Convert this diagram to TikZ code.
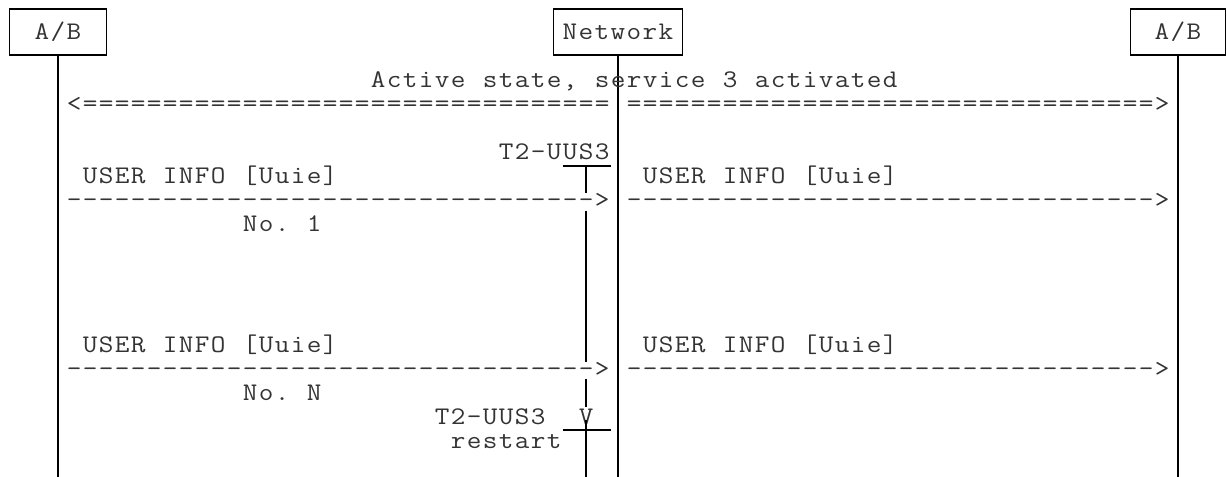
\documentclass[tikz,border=0pt]{standalone}
\usepackage{tikz}
\usepackage{graphicx}

% one character per fixed cell, as in the plain-text original
\newlength{\cellw}
\setlength{\cellw}{12pt}
\newcommand{\cellglyph}[1]{\makebox[\cellw][c]{\scalebox{1.12}[1]{#1}}}
\ExplSyntaxOn
\NewDocumentCommand \monoline { m }
  { \str_map_inline:nn {#1} { \cellglyph{##1} } }
\NewDocumentCommand \cellrun { m m }
  { \prg_replicate:nn {#1} { \cellglyph{#2} } }
\ExplSyntaxOff

\begin{document}
\begin{tikzpicture}[
    x=0.75pt, y=-0.75pt,
    mono/.style={font=\ttfamily\fontsize{19}{24}\selectfont, text=black!80},
    party/.style={rectangle, draw=black, line width=1.2pt, mono,
                  inner sep=0pt, minimum height=34.5pt},
    ascii/.style={mono, inner sep=0pt, anchor=base west},
    lifeline/.style={line width=1.2pt},
    timer/.style={line width=0.9pt}
]
  \useasboundingbox (0,0) rectangle (1227,477);

  % Parties
  \node[party, minimum width=72.75pt] (ab-left)  at (58,32)   {\monoline{A/B}};
  \node[party, minimum width=96.75pt] (network)  at (618,32)  {\monoline{Network}};
  \node[party, minimum width=71.25pt] (ab-right) at (1178,32) {\monoline{A/B}};

  % Lifelines
  \coordinate (ab-left-end)  at (58,477);
  \coordinate (network-end)  at (618,477);
  \coordinate (ab-right-end) at (1178,477);
  \draw[lifeline] (ab-left.south)  -- (ab-left-end);
  \draw[lifeline] (network.south)  -- (network-end);
  \draw[lifeline] (ab-right.south) -- (ab-right-end);

  % Active state
  \node[ascii] (active) at (370,88) {\monoline{Active state, service 3 activated}};
  \node[ascii] (active-left)  at (66,112)  {\cellrun{1}{<}\cellrun{33}{=}};
  \node[ascii] (active-right) at (626,112) {\cellrun{33}{=}\cellrun{1}{>}};

  % Message No. 1
  \node[ascii] (tmr-start) at (498,160) {\monoline{T2-UUS3}};
  \node[ascii] (msg1-left)      at (82,184)  {\monoline{USER INFO [Uuie]}};
  \node[ascii] (msg1-right)     at (642,184) {\monoline{USER INFO [Uuie]}};
  \node[ascii] (msg1-left-arr)  at (66,208)  {\cellrun{33}{-}\cellrun{1}{>}};
  \node[ascii] (msg1-right-arr) at (626,208) {\cellrun{33}{-}\cellrun{1}{>}};
  \node[ascii] (msg1-no) at (242,232) {\monoline{No. 1}};

  % Message No. N
  \node[ascii] (msgN-left)      at (82,352)  {\monoline{USER INFO [Uuie]}};
  \node[ascii] (msgN-right)     at (642,352) {\monoline{USER INFO [Uuie]}};
  \node[ascii] (msgN-left-arr)  at (66,376)  {\cellrun{33}{-}\cellrun{1}{>}};
  \node[ascii] (msgN-right-arr) at (626,376) {\cellrun{33}{-}\cellrun{1}{>}};
  \node[ascii] (msgN-no) at (242,400) {\monoline{No. N}};

  % Timer restart
  \node[ascii] (tmr-restart) at (434,424) {\monoline{T2-UUS3}};
  \node[ascii] (tmr-tip)     at (578,424) {\monoline{V}};
  \node[ascii] (tmr-restart2) at (450,448) {\monoline{restart}};

  % Timer bar
  \coordinate (t-top) at (586,166);
  \coordinate (t-bot) at (586,477);
  \draw[timer] (563,166) -- (611,166);
  \draw[timer] (t-top) -- (586,193);
  \draw[timer] (586,211) -- (586,362);
  \draw[timer] (586,379) -- (586,407);
  \draw[timer] (563,430) -- (611,430);
  \draw[timer] (586,420) -- (t-bot);
\end{tikzpicture}
\end{document}
